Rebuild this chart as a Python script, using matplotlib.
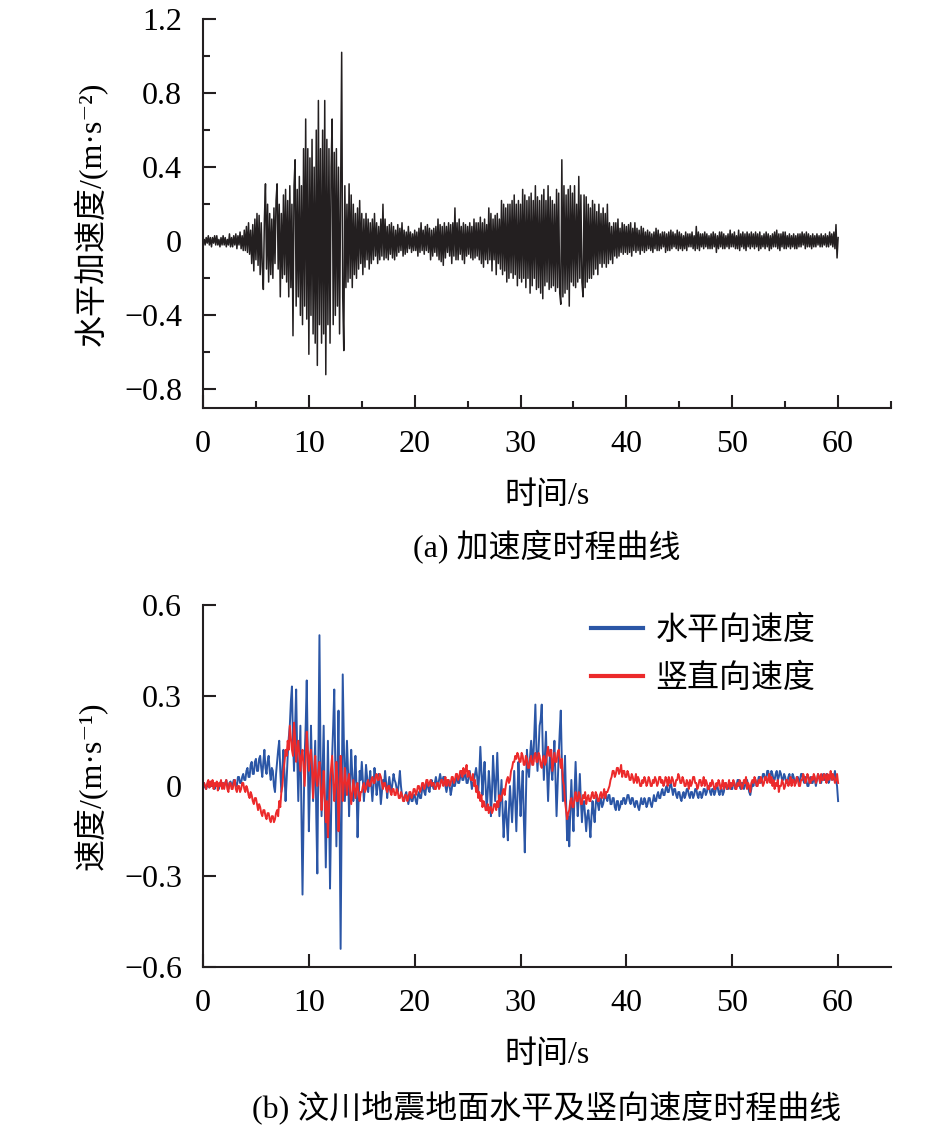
import numpy as np
import matplotlib
matplotlib.use("Agg")
import matplotlib.pyplot as plt
from matplotlib.ticker import MultipleLocator

plt.rcParams['font.family'] = ['Liberation Serif', 'Noto Sans CJK SC', 'DejaVu Serif']
plt.rcParams['axes.unicode_minus'] = True

# sample step of the digitised records (s)
dt = 0.1

# horizontal acceleration (m/s^2), one row = 2 s
acc = [
    0, 0.01, -0.02, 0.02, -0.01, 0.03, -0.02, 0.02, -0.03, 0.02, -0.01, 0.03, -0.02, 0.03, -0.02, 0.01, -0.03, 0.02, -0.02, 0.03,
    -0.02, 0.02, -0.03, 0.01, -0.02, 0.04, -0.03, 0.02, -0.03, 0.03, -0.02, 0.04, -0.04, 0.03, -0.02, 0.05, -0.04, 0.03, -0.05, 0.06,
    -0.05, 0.08, -0.06, 0.1, -0.07, 0.06, -0.12, 0.09, -0.16, 0.12, -0.1, 0.15, -0.13, 0.14, -0.18, 0.1, -0.14, -0.26, 0.12, 0.31,
    -0.15, 0.2, -0.22, 0.15, -0.18, 0.12, -0.2, 0.18, -0.12, 0.22, 0.31, -0.15, 0.2, -0.3, 0.15, -0.2, 0.25, -0.18, 0.28, -0.22,
    0.22, -0.3, 0.3, -0.25, 0.2, -0.51, 0.3, 0.44, -0.35, 0.28, -0.3, 0.35, -0.4, 0.3, -0.45, 0.5, -0.35, 0.66, -0.42, 0.5,
    -0.61, 0.45, -0.4, 0.55, -0.5, 0.4, -0.55, 0.6, -0.67, 0.76, -0.45, 0.5, -0.55, 0.6, -0.5, 0.76, -0.72, 0.55, -0.45, 0.5,
    -0.55, 0.4, 0.66, -0.45, 0.48, -0.4, 0.5, -0.35, 0.4, -0.5, 0.3, 1.02, -0.3, -0.59, 0.3, -0.25, 0.2, -0.22, 0.31, -0.2,
    0.25, -0.25, 0.2, -0.18, 0.15, -0.2, 0.18, -0.15, 0.22, -0.12, 0.15, -0.18, 0.12, -0.14, 0.15, -0.1, 0.12, -0.15, 0.1, -0.12,
    0.12, -0.1, 0.15, -0.08, 0.1, -0.12, 0.08, -0.1, 0.12, -0.08, 0.2, -0.1, 0.12, -0.09, 0.08, -0.1, 0.09, -0.07, 0.1, -0.09,
    0.08, -0.1, 0.06, -0.08, 0.09, -0.06, 0.07, -0.05, 0.1, -0.08, 0.06, -0.07, 0.05, -0.06, 0.08, -0.04, 0.05, -0.06, 0.04, -0.05,
    0.06, -0.05, 0.05, -0.08, 0.07, -0.06, 0.1, -0.05, 0.06, -0.07, 0.08, -0.05, 0.09, -0.06, 0.07, -0.1, 0.06, -0.08, 0.07, -0.06,
    0.08, -0.08, 0.12, -0.1, 0.09, -0.11, 0.08, -0.13, 0.1, -0.09, 0.08, -0.06, 0.1, -0.08, 0.09, -0.12, 0.1, -0.08, 0.18, -0.1,
    0.1, -0.1, 0.12, -0.07, 0.08, -0.1, 0.1, -0.12, 0.09, -0.08, 0.08, -0.07, 0.1, -0.09, 0.08, -0.1, 0.12, -0.09, 0.1, -0.08,
    0.1, -0.1, 0.13, -0.12, 0.1, -0.14, 0.12, -0.1, 0.09, -0.12, 0.18, -0.1, 0.15, -0.16, 0.12, -0.1, 0.14, -0.18, 0.15, -0.12,
    0.12, -0.15, 0.22, -0.18, 0.2, -0.16, 0.18, -0.22, 0.2, -0.2, 0.2, -0.17, 0.22, -0.2, 0.25, -0.18, 0.2, -0.24, 0.22, -0.2,
    0.2, -0.22, 0.28, -0.2, 0.25, -0.25, 0.22, -0.2, 0.24, -0.28, 0.26, -0.24, 0.22, -0.2, 0.3, -0.26, 0.24, -0.25, 0.22, -0.28,
    0.25, -0.31, 0.28, -0.24, 0.22, -0.22, 0.3, -0.26, 0.24, -0.25, 0.22, -0.24, 0.2, -0.27, 0.28, -0.25, 0.26, -0.28, -0.34, 0.44,
    -0.3, 0.3, -0.28, 0.25, -0.26, 0.28, -0.35, 0.3, -0.22, 0.26, -0.24, 0.3, -0.25, 0.2, -0.22, 0.35, -0.2, 0.25, -0.22, -0.3,
    0.25, -0.25, 0.24, -0.22, 0.2, -0.2, 0.18, -0.2, 0.22, -0.18, 0.2, -0.15, 0.16, -0.18, 0.2, -0.12, 0.15, -0.14, 0.18, -0.12,
    0.15, -0.14, 0.2, -0.12, 0.1, -0.1, 0.08, -0.12, 0.1, -0.08, 0.1, -0.09, 0.12, -0.08, 0.07, -0.06, 0.1, -0.07, 0.09, -0.06,
    0.08, -0.07, 0.09, -0.06, 0.1, -0.08, 0.07, -0.05, 0.1, -0.06, 0.07, -0.05, 0.06, -0.07, 0.08, -0.05, 0.07, -0.06, 0.05, -0.05,
    0.06, -0.04, 0.05, -0.05, 0.04, -0.06, 0.05, -0.04, 0.07, -0.05, 0.06, -0.05, 0.04, -0.04, 0.05, -0.03, 0.05, -0.06, 0.04, -0.05,
    0.05, -0.05, 0.06, -0.04, 0.05, -0.03, 0.04, -0.04, 0.06, -0.05, 0.05, -0.04, 0.04, -0.05, 0.03, -0.04, 0.05, -0.05, 0.04, -0.03,
    0.04, -0.03, 0.05, -0.04, 0.03, -0.05, 0.08, -0.04, 0.05, -0.05, 0.04, -0.03, 0.04, -0.04, 0.05, -0.03, 0.04, -0.04, 0.03, -0.04,
    0.04, -0.04, 0.05, -0.03, 0.04, -0.06, 0.03, -0.04, 0.05, -0.03, 0.05, -0.04, 0.04, -0.04, 0.03, -0.03, 0.04, -0.04, 0.06, -0.03,
    0.04, -0.03, 0.05, -0.04, 0.03, -0.04, 0.06, -0.05, 0.04, -0.03, 0.05, -0.04, 0.04, -0.05, 0.05, -0.03, 0.04, -0.04, 0.05, -0.03,
    0.04, -0.04, 0.05, -0.03, 0.04, -0.05, 0.05, -0.04, 0.03, -0.03, 0.04, -0.04, 0.05, -0.03, 0.04, -0.05, 0.03, -0.04, 0.04, -0.03,
    0.05, -0.03, 0.06, -0.04, 0.04, -0.05, 0.04, -0.03, 0.05, -0.04, 0.05, -0.04, 0.03, -0.03, 0.04, -0.04, 0.03, -0.03, 0.04, -0.04,
    0.03, -0.04, 0.04, -0.03, 0.04, -0.03, 0.05, -0.02, 0.04, -0.04, 0.05, -0.03, 0.04, -0.03, 0.03, -0.04, 0.04, -0.03, 0.03, -0.03,
    0.04, -0.02, 0.03, -0.03, 0.04, -0.03, 0.03, -0.02, 0.04, -0.03, 0.03, -0.03, 0.05, -0.02, 0.04, -0.03, 0.05, -0.04, 0.09, -0.09,
    0.02,
]

# horizontal velocity (m/s), panel (b) blue
vel_h = [
    0, 0.01, -0.005, -0.01, 0.005, 0.01, -0.005, 0.0, 0.01, 0.015, 0.0, -0.01, 0.005, 0.01, 0.0, -0.01, 0.01, 0.015, 0.0, 0.01,
    0.0, 0.01, 0.02, 0.0, -0.01, 0.01, 0.015, 0.0, 0.005, 0.02, 0.02, 0.0, 0.0, 0.03, 0.03, 0.01, 0.01, 0.03, 0.04, 0.02,
    0.02, 0.05, 0.06, 0.03, 0.03, 0.07, 0.08, 0.04, 0.04, 0.08, 0.09, 0.05, 0.05, 0.09, 0.1, 0.06, 0.03, 0.08, 0.12, 0.06,
    0.04, 0.08, 0.1, 0.05, 0.02, 0.06, 0.05, 0.0, -0.02, 0.04, 0.08, 0.12, 0.15, 0.05, -0.02, 0.06, 0.12, 0.04, -0.05, 0.02,
    0.1, 0.16, 0.2, 0.28, 0.33, 0.15, 0.05, 0.2, 0.32, 0.1, -0.05, 0.08, 0.2, -0.1, -0.36, -0.1, 0.1, 0.2, 0.35, 0.1,
    -0.15, 0.0, 0.2, 0.05, -0.05, 0.05, 0.15, -0.1, -0.29, 0.1, 0.5, 0.1, -0.1, 0.05, 0.2, -0.05, -0.27, -0.05, 0.15, -0.05,
    -0.34, -0.1, 0.1, 0.2, 0.32, 0.05, -0.2, 0.05, 0.25, -0.1, -0.54, -0.1, 0.37, 0.15, -0.05, 0.05, 0.15, 0.05, -0.1, 0.02,
    0.12, 0.04, -0.05, 0.02, 0.1, 0.0, -0.17, -0.05, 0.05, 0.02, 0.08, 0.02, -0.05, 0.0, 0.07, 0.03, -0.02, 0.01, 0.05, 0.0,
    -0.05, 0.0, 0.06, 0.02, -0.03, 0.0, 0.04, 0.0, -0.06, -0.02, 0.02, 0.0, 0.05, 0.01, -0.04, 0.0, 0.03, 0.0, -0.02, 0.01,
    0.04, 0.02, 0.01, -0.01, -0.02, 0.01, 0.05, 0.0, -0.03, -0.04, -0.05, -0.03, -0.02, -0.04, -0.06, -0.04, -0.03, -0.05, -0.05, -0.03,
    -0.03, -0.05, -0.06, -0.03, -0.02, -0.04, -0.04, -0.01, 0.0, -0.02, -0.03, 0.0, 0.01, -0.01, -0.02, 0.01, 0.02, 0.0, -0.01, 0.01,
    0.03, 0.01, 0.0, 0.02, 0.04, 0.02, 0.01, 0.03, 0.03, 0.0, -0.02, 0.0, 0.02, 0.0, -0.03, -0.01, 0.02, 0.0, 0.0, 0.02,
    0.03, 0.01, 0.01, 0.03, 0.05, 0.02, 0.02, 0.04, 0.04, 0.01, 0.01, 0.03, 0.05, 0.02, -0.01, 0.01, 0.02, 0.04, 0.06, 0.03,
    -0.02, 0.04, 0.13, 0.05, -0.03, 0.03, 0.08, 0.0, -0.08, -0.02, 0.05, 0.0, -0.1, -0.02, 0.1, 0.03, -0.05, 0.02, 0.11, 0.0,
    -0.1, -0.04, 0.02, -0.08, -0.17, -0.1, -0.05, -0.12, -0.18, -0.08, 0.0, -0.06, -0.12, -0.04, 0.05, -0.05, -0.15, -0.04, 0.08, 0.0,
    -0.1, -0.02, 0.05, -0.1, -0.22, -0.05, 0.12, 0.06, 0.03, 0.1, 0.15, 0.1, 0.08, 0.18, 0.27, 0.12, 0.05, 0.12, 0.2, 0.22,
    0.27, 0.12, 0.02, 0.1, 0.18, 0.05, -0.05, 0.05, 0.12, 0.06, 0.02, 0.08, 0.15, 0.02, -0.1, 0.0, 0.1, 0.18, 0.25, 0.08,
    -0.05, 0.02, 0.1, -0.05, -0.18, -0.1, -0.2, -0.08, 0.02, -0.08, -0.15, -0.02, 0.08, -0.02, -0.1, -0.04, 0.04, -0.05, -0.12, -0.06,
    -0.05, -0.1, -0.15, -0.1, -0.08, -0.12, -0.17, -0.1, -0.05, -0.09, -0.12, -0.06, -0.03, -0.06, -0.08, -0.05, -0.04, -0.07, -0.06, -0.04,
    -0.02, -0.04, -0.05, -0.03, -0.03, -0.06, -0.06, -0.04, -0.04, -0.07, -0.08, -0.05, -0.05, -0.08, -0.07, -0.05, -0.06, -0.04, -0.04, -0.06,
    -0.05, -0.03, -0.03, -0.05, -0.06, -0.04, -0.04, -0.06, -0.07, -0.05, -0.05, -0.07, -0.08, -0.06, -0.04, -0.06, -0.06, -0.04, -0.05, -0.07,
    -0.06, -0.04, -0.04, -0.06, -0.07, -0.05, -0.03, -0.05, -0.05, -0.03, -0.02, -0.04, -0.04, -0.02, -0.01, -0.03, -0.03, -0.01, 0.0, -0.02,
    -0.02, 0.0, 0.01, -0.01, -0.03, -0.01, -0.01, -0.03, -0.04, -0.02, -0.02, -0.04, -0.05, -0.03, -0.02, -0.04, -0.03, -0.01, -0.01, -0.03,
    -0.04, -0.02, -0.02, -0.04, -0.03, -0.01, -0.01, -0.03, -0.04, -0.02, -0.02, -0.04, -0.03, -0.01, -0.01, -0.03, -0.02, 0.0, 0.0, -0.02,
    -0.03, -0.01, -0.01, -0.03, -0.02, 0.0, 0.0, -0.02, -0.03, -0.01, -0.01, -0.03, -0.02, 0.0, 0.01, -0.01, -0.01, 0.01, 0.01, -0.01,
    -0.01, 0.01, 0.01, -0.01, 0.0, 0.02, 0.02, 0.0, -0.01, 0.01, 0.01, -0.01, 0.0, 0.02, 0.02, 0.0, -0.02, -0.03, -0.01, 0.01,
    0.0, 0.02, 0.02, 0.0, 0.01, 0.03, 0.03, 0.01, 0.02, 0.04, 0.04, 0.02, 0.02, 0.05, 0.05, 0.02, 0.03, 0.05, 0.04, 0.02,
    0.02, 0.04, 0.05, 0.02, 0.03, 0.05, 0.04, 0.02, 0.02, 0.04, 0.03, 0.01, 0.01, 0.03, 0.04, 0.02, 0.02, 0.04, 0.03, 0.01,
    0.01, 0.03, 0.03, 0.01, 0.02, 0.04, 0.04, 0.02, 0.01, 0.03, 0.02, 0.0, 0.0, 0.02, 0.03, 0.01, 0.01, 0.03, 0.02, 0.0,
    0.02, 0.04, 0.03, 0.01, 0.01, 0.03, 0.04, 0.02, 0.02, 0.04, 0.03, 0.01, 0.02, 0.04, 0.04, 0.02, 0.03, 0.05, 0.02, 0.0,
    -0.05,
]

# vertical velocity (m/s), panel (b) red
vel_v = [
    0, 0.01, 0.0, -0.01, 0.01, 0.02, -0.005, 0.015, 0.0, 0.02, -0.01, 0.01, 0.0, 0.015, -0.015, 0.01, 0.0, 0.02, -0.01, 0.01,
    -0.01, 0.01, 0.02, -0.01, -0.02, 0.01, 0.01, -0.01, -0.01, 0.01, 0.02, -0.01, -0.02, 0.0, 0.0, -0.02, -0.01, 0.01, 0.01, -0.01,
    -0.02, 0.0, -0.01, -0.03, -0.04, -0.02, -0.03, -0.05, -0.06, -0.04, -0.04, -0.06, -0.08, -0.06, -0.07, -0.09, -0.1, -0.08, -0.08, -0.1,
    -0.11, -0.09, -0.09, -0.11, -0.12, -0.1, -0.1, -0.12, -0.11, -0.09, -0.08, -0.1, -0.05, -0.07, -0.02, 0.0, 0.05, 0.08, 0.12, 0.1,
    0.15, 0.12, 0.2, 0.16, 0.12, 0.1, 0.21, 0.16, 0.08, 0.12, 0.15, 0.1, 0.05, 0.1, 0.12, 0.06, 0.0, 0.08, 0.18, 0.12,
    0.05, 0.1, 0.12, 0.06, -0.04, 0.04, 0.1, 0.02, 0.0, 0.05, 0.08, 0.0, -0.08, -0.02, 0.05, -0.04, -0.12, -0.05, -0.17, -0.08,
    0.02, 0.06, 0.1, 0.02, -0.05, 0.0, 0.08, 0.02, -0.15, -0.05, 0.1, 0.04, -0.05, 0.0, 0.06, 0.01, -0.03, 0.02, 0.04, -0.02,
    -0.06, -0.02, 0.02, -0.01, -0.04, 0.0, 0.01, -0.03, -0.05, -0.02, -0.02, 0.0, 0.01, -0.02, -0.01, 0.01, 0.02, 0.0, 0.0, 0.02,
    0.03, 0.01, 0.01, 0.03, 0.04, 0.02, 0.02, 0.04, 0.03, 0.01, -0.01, 0.01, 0.01, -0.01, -0.02, 0.0, 0.0, -0.02, -0.03, -0.01,
    -0.01, -0.03, -0.03, -0.01, -0.02, -0.04, -0.04, -0.02, -0.03, -0.05, -0.05, -0.03, -0.03, -0.05, -0.04, -0.02, -0.02, -0.04, -0.03, -0.01,
    -0.01, -0.03, -0.02, 0.0, 0.0, -0.02, -0.01, 0.01, 0.01, -0.01, 0.0, 0.02, 0.02, 0.0, 0.01, 0.02, 0.0, 0.01, 0.01, -0.01,
    -0.01, 0.01, 0.01, -0.01, 0.0, 0.02, 0.02, 0.0, 0.01, 0.03, 0.0, 0.02, 0.02, 0.0, 0.01, 0.03, 0.03, 0.01, 0.02, 0.04,
    0.04, 0.02, 0.03, 0.05, 0.05, 0.03, 0.06, 0.04, 0.05, 0.07, 0.03, 0.05, 0.04, 0.02, 0.02, 0.04, 0.0, 0.02, -0.02, 0.0,
    -0.04, -0.02, -0.05, -0.03, -0.07, -0.05, -0.06, -0.08, -0.08, -0.06, -0.09, -0.07, -0.07, -0.09, -0.08, -0.06, -0.06, -0.08, -0.05, -0.07,
    -0.03, -0.05, -0.04, -0.02, -0.01, -0.03, 0.0, 0.02, 0.03, 0.01, 0.02, 0.05, 0.06, 0.08, 0.08, 0.1, 0.09, 0.11, 0.1, 0.08,
    0.08, 0.11, 0.1, 0.07, 0.07, 0.1, 0.09, 0.06, 0.06, 0.09, 0.1, 0.07, 0.07, 0.1, 0.11, 0.08, 0.08, 0.11, 0.1, 0.07,
    0.06, 0.09, 0.1, 0.07, 0.08, 0.11, 0.13, 0.1, 0.1, 0.12, 0.05, 0.08, 0.11, 0.08, 0.08, 0.11, 0.12, 0.09, 0.06, 0.09,
    0.02, 0.0, -0.05, -0.08, -0.11, -0.09, -0.08, -0.05, -0.04, -0.07, -0.07, -0.04, -0.02, -0.05, -0.05, -0.02, -0.03, -0.06, -0.06, -0.03,
    -0.04, -0.02, -0.06, -0.04, -0.03, -0.05, -0.05, -0.03, -0.02, -0.04, -0.04, -0.02, -0.03, -0.05, -0.05, -0.03, -0.02, -0.04, -0.03, -0.01,
    -0.04, -0.02, -0.02, -0.01, 0.0, 0.02, 0.03, 0.05, 0.05, 0.03, 0.04, 0.06, 0.06, 0.04, 0.05, 0.07, 0.03, 0.05, 0.05, 0.03,
    0.03, 0.05, 0.04, 0.02, 0.02, 0.04, 0.03, 0.01, 0.02, 0.04, 0.01, 0.03, 0.02, 0.0, 0.0, 0.02, 0.01, 0.03, 0.02, 0.0,
    0.01, 0.03, 0.02, 0.0, 0.0, 0.02, 0.01, 0.03, 0.02, 0.0, 0.01, 0.03, 0.03, 0.01, 0.02, 0.0, 0.01, 0.03, 0.02, 0.0,
    0.03, 0.01, 0.01, 0.03, 0.02, 0.0, 0.0, 0.02, 0.02, 0.04, 0.03, 0.01, 0.01, 0.03, 0.02, 0.0, 0.0, 0.02, 0.01, -0.01,
    0.02, 0.0, 0.01, 0.03, 0.03, 0.01, 0.01, -0.01, 0.0, 0.02, 0.02, 0.0, 0.01, 0.03, 0.0, 0.02, 0.01, -0.01, -0.01, 0.01,
    0.0, 0.02, 0.01, -0.01, -0.01, 0.01, 0.0, 0.02, 0.01, -0.01, 0.0, 0.02, -0.01, 0.01, 0.01, -0.01, 0.0, 0.02, -0.01, 0.01,
    0.0, 0.02, 0.01, -0.01, -0.01, 0.01, 0.0, 0.02, 0.01, -0.01, 0.0, 0.02, 0.01, 0.03, -0.01, 0.01, 0.0, -0.02, 0.01, 0.02,
    0.01, 0.03, 0.02, 0.0, 0.0, 0.02, 0.01, 0.03, 0.02, 0.0, 0.01, 0.03, 0.03, 0.01, 0.02, 0.04, 0.01, 0.03, 0.0, 0.02,
    -0.01, 0.01, 0.0, 0.02, -0.02, 0.0, 0.0, 0.02, 0.01, -0.01, 0.0, 0.02, 0.02, 0.0, 0.01, 0.03, 0.0, 0.02, 0.02, 0.0,
    0.01, 0.03, 0.02, 0.0, 0.0, 0.02, 0.02, 0.04, 0.03, 0.01, 0.02, 0.04, 0.03, 0.01, 0.01, 0.03, 0.02, 0.04, 0.03, 0.01,
    0.02, 0.04, 0.03, 0.01, 0.04, 0.02, 0.02, 0.04, 0.03, 0.01, 0.04, 0.02, 0.03, 0.05, 0.02, 0.04, 0.03, 0.01, 0.02, 0.04,
    0.01,
]

x_ticks = [0, 10, 20, 30, 40, 50, 60]
labels_b = ['水平向速度', '竖直向速度']

t_acc = np.arange(len(acc)) * dt
t_h = np.arange(len(vel_h)) * dt
t_v = np.arange(len(vel_v)) * dt

fs = 23
fig = plt.figure(figsize=(9.46, 11.29), dpi=100)
ax1 = fig.add_axes([0.2146, 0.6386, 0.7273, 0.3446])
ax2 = fig.add_axes([0.2146, 0.1435, 0.7273, 0.3206])


def style(ax, minor):
    for s in ['top', 'right']:
        ax.spines[s].set_visible(False)
    for s in ['left', 'bottom']:
        ax.spines[s].set_linewidth(1.5)
        ax.spines[s].set_color('#231f20')
    ax.set_xlim(0, 65)
    ax.set_xticks(x_ticks)
    ax.tick_params(which='major', direction='in', length=9.5, width=1.5,
                   labelsize=fs, color='#231f20')
    ax.tick_params(axis='x', which='major', pad=16)
    ax.tick_params(axis='y', which='major', pad=15)
    if minor:
        ax.xaxis.set_minor_locator(MultipleLocator(5))
        ax.yaxis.set_minor_locator(MultipleLocator(0.2))
        ax.tick_params(which='minor', direction='in', length=5, width=1.5,
                       color='#231f20')
    ax.set_xlabel('时间/s', fontsize=fs, labelpad=16)


# (a) acceleration
ax1.plot(t_acc, acc, color='#231f20', lw=1.1)
ax1.set_ylim(-0.9, 1.2)
ax1.set_yticks([-0.8, -0.4, 0, 0.4, 0.8, 1.2])
ax1.set_yticklabels(['\u22120.8', '\u22120.4', '0', '0.4', '0.8', '1.2'])
style(ax1, True)
ax1.set_ylabel('水平加速度/(m·s\u207b\u00b2)', fontsize=fs, labelpad=12)

# (b) velocities
ax2.plot(t_h, vel_h, color='#2b56a6', lw=1.4, label=labels_b[0])
ax2.plot(t_v, vel_v, color='#ec2a2b', lw=1.4, label=labels_b[1])
ax2.set_ylim(-0.6, 0.6)
ax2.set_yticks([-0.6, -0.3, 0, 0.3, 0.6])
ax2.set_yticklabels(['\u22120.6', '\u22120.3', '0', '0.3', '0.6'])
style(ax2, False)
ax2.set_ylabel('速度/(m·s\u207b\u00b9)', fontsize=fs, labelpad=12)
leg = ax2.legend(loc='upper right', bbox_to_anchor=(0.89, 0.97), frameon=False,
                 fontsize=fs, handlelength=1.6, handletextpad=0.4,
                 labelspacing=0.55, borderpad=0, borderaxespad=0)
for h in leg.get_lines():
    h.set_linewidth(3)

fig.text(0.578, 1 - 547 / 1129, '(a) 加速度时程曲线', ha='center', va='center', fontsize=fs)
fig.text(0.578, 1 - 1108 / 1129, '(b) 汶川地震地面水平及竖向速度时程曲线', ha='center',
         va='center', fontsize=fs)

fig.savefig('out.png', dpi=100)
